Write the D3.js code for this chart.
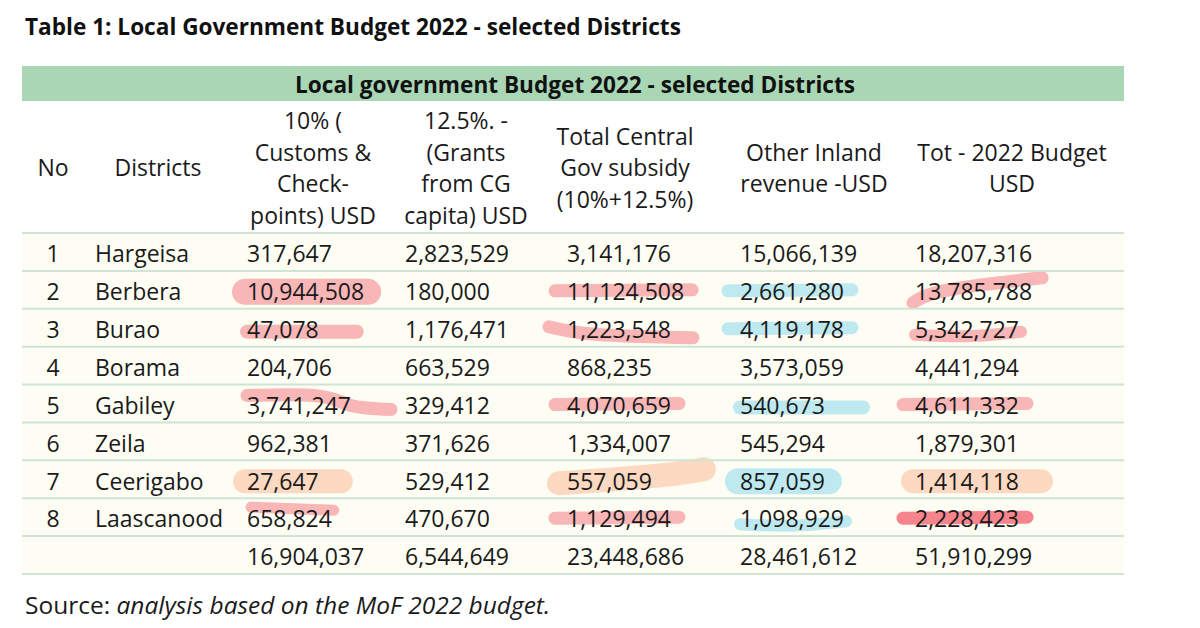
<!DOCTYPE html>
<html>
<head>
<meta charset="utf-8">
<script src="https://cdn.jsdelivr.net/npm/d3@7"></script>
<style>
  body { margin: 0; background: #fff; }
  svg { display: block; font-family: 'Open Sans', sans-serif; }
</style>
</head>
<body>
<svg id="chart" width="1200" height="628"></svg>
<script>
const title = 'Table 1: Local Government Budget 2022 - selected Districts';
const bandTitle = 'Local government Budget 2022 - selected Districts';
const headers = [
  ['No'],
  ['Districts'],
  ['10% (', 'Customs &', 'Check-', 'points) USD'],
  ['12.5%. -', '(Grants', 'from CG', 'capita) USD'],
  ['Total Central', 'Gov subsidy', '(10%+12.5%)'],
  ['Other Inland', 'revenue -USD'],
  ['Tot - 2022 Budget', 'USD']
];
const districts = ['Hargeisa', 'Berbera', 'Burao', 'Borama', 'Gabiley', 'Zeila', 'Ceerigabo', 'Laascanood'];
const customs = [317647, 10944508, 47078, 204706, 3741247, 962381, 27647, 658824];
const grants  = [2823529, 180000, 1176471, 663529, 329412, 371626, 529412, 470670];
const subsidy = [3141176, 11124508, 1223548, 868235, 4070659, 1334007, 557059, 1129494];
const inland  = [15066139, 2661280, 4119178, 3573059, 540673, 545294, 857059, 1098929];
const budget  = [18207316, 13785788, 5342727, 4441294, 4611332, 1879301, 1414118, 2228423];
const totals  = [16904037, 6544649, 23448686, 28461612, 51910299];
const source = 'Source: ';
const sourceNote = 'analysis based on the MoF 2022 budget.';

// hand-drawn marker strokes: row index, column index, tone, stroke kind
const highlights = [
  {row: 1, col: 2, tone: 'pink',  mark: 'blob'},
  {row: 1, col: 4, tone: 'pink',  mark: 'mid'},
  {row: 1, col: 5, tone: 'blue',  mark: 'mid'},
  {row: 1, col: 6, tone: 'pink',  mark: 'slant'},
  {row: 2, col: 2, tone: 'pink',  mark: 'tail'},
  {row: 2, col: 4, tone: 'pink',  mark: 'swoop'},
  {row: 2, col: 5, tone: 'blue',  mark: 'mid'},
  {row: 2, col: 6, tone: 'pink',  mark: 'under'},
  {row: 4, col: 2, tone: 'pink',  mark: 'wave'},
  {row: 4, col: 4, tone: 'pink',  mark: 'mid'},
  {row: 4, col: 5, tone: 'blue',  mark: 'tail'},
  {row: 4, col: 6, tone: 'pink',  mark: 'mid'},
  {row: 6, col: 2, tone: 'peach', mark: 'blobLong'},
  {row: 6, col: 4, tone: 'peach', mark: 'rise'},
  {row: 6, col: 5, tone: 'blue',  mark: 'blob'},
  {row: 6, col: 6, tone: 'peach', mark: 'blobLong'},
  {row: 7, col: 2, tone: 'pink',  mark: 'over'},
  {row: 7, col: 4, tone: 'pink',  mark: 'mid'},
  {row: 7, col: 5, tone: 'blue',  mark: 'under'},
  {row: 7, col: 6, tone: 'red',   mark: 'mid'}
];

// ---- layout ----
const W = 1200, H = 628;
const tableLeft = 22, tableRight = 1124;
const colLeft = [48, 95, 247, 405, 567, 740, 915];
const colMid  = [53, 158, 313, 466, 625, 814, 1012];
const fontSize = 23;
const tones = {
  pink:  'rgba(243,112,122,0.5)',
  blue:  'rgba(112,208,238,0.45)',
  peach: 'rgba(250,168,118,0.42)',
  red:   'rgba(240,58,78,0.62)'
};

const svg = d3.select('#chart').attr('viewBox', [0, 0, W, H]);
svg.append('rect').attr('width', W).attr('height', H).attr('fill', '#fff');

const fmt = d3.format(',');
const columns = [customs, grants, subsidy, inland, budget];
const rows = districts.map((d, i) => [String(i + 1), d].concat(columns.map(c => fmt(c[i]))));
rows.push(['', ''].concat(totals.map(fmt)));

const y = d3.scaleBand().domain(d3.range(rows.length)).range([233, 574]);

// title
svg.append('text')
  .attr('x', 25).attr('y', 27).attr('dy', '0.36em')
  .attr('font-size', 22.6).attr('font-weight', 700).attr('fill', '#111')
  .text(title);

// green band
svg.append('rect')
  .attr('x', tableLeft).attr('y', 66).attr('width', tableRight - tableLeft).attr('height', 35)
  .attr('fill', '#a9d6b5');
svg.append('text')
  .attr('x', (tableLeft + tableRight) / 2 + 2).attr('y', 85).attr('dy', '0.36em')
  .attr('text-anchor', 'middle')
  .attr('font-size', 22.6).attr('font-weight', 700).attr('fill', '#111')
  .text(bandTitle);

// cream body
svg.append('rect')
  .attr('x', tableLeft).attr('y', y(0)).attr('width', tableRight - tableLeft)
  .attr('height', y.range()[1] - y(0))
  .attr('fill', '#fdfdf4');

// header cells
const lineGap = 31.5, headMid = 168;
const head = svg.append('g').attr('font-size', fontSize).attr('fill', '#1a1a1a').attr('text-anchor', 'middle');
headers.forEach((lines, c) => {
  const t = head.append('text').attr('x', colMid[c]);
  lines.forEach((ln, k) => {
    t.append('tspan')
      .attr('x', colMid[c])
      .attr('y', headMid + (k - (lines.length - 1) / 2) * lineGap)
      .attr('dy', '0.36em')
      .text(ln);
  });
});

// highlight layer sits under the text
const hlLayer = svg.append('g').attr('fill', 'none').attr('stroke-linecap', 'round').attr('stroke-linejoin', 'round');

// row lines
svg.append('g')
  .selectAll('line')
  .data(d3.range(rows.length + 1))
  .join('line')
  .attr('x1', tableLeft).attr('x2', tableRight)
  .attr('y1', i => i < rows.length ? y(i) : y.range()[1])
  .attr('y2', i => i < rows.length ? y(i) : y.range()[1])
  .attr('stroke', '#cfe4d3').attr('stroke-width', 2);

// body cells
const body = svg.append('g').attr('font-size', fontSize).attr('fill', '#1a1a1a');
const cellNodes = {};
rows.forEach((r, i) => {
  r.forEach((v, c) => {
    const t = body.append('text')
      .attr('x', c === 0 ? colMid[0] : colLeft[c])
      .attr('y', y(i) + y.bandwidth() / 2 + 2)
      .attr('dy', '0.36em')
      .attr('text-anchor', c === 0 ? 'middle' : 'start')
      .text(v);
    cellNodes[i + '-' + c] = t;
  });
});

// marker stroke shapes relative to the text extent
const marks = {
  blob:     (a, b, m) => ({w: 26, p: [[a - 2, m], [b + 4, m]]}),
  blobLong: (a, b, m) => ({w: 24, p: [[a - 2, m], [b + 22, m]]}),
  mid:      (a, b, m) => ({w: 13, p: [[a - 12, m - 1], [b + 8, m - 2]]}),
  tail:     (a, b, m) => ({w: 14, p: [[a, m + 2], [b + 38, m + 2]]}),
  under:    (a, b, m) => ({w: 12, p: [[a, m + 5], [a + (b - a) * 0.5, m + 8], [b + 2, m + 2]]}),
  slant:    (a, b, m) => ({w: 13, p: [[a - 2, m + 11], [a + 18, m - 2], [b + 10, m - 14]]}),
  swoop:    (a, b, m) => ({w: 13, p: [[a - 18, m - 3], [a + 20, m + 6], [b + 22, m + 8]]}),
  wave:     (a, b, m) => ({w: 13, p: [[a, m - 10], [b - 20, m - 12], [b - 5, m + 2], [b + 40, m + 4]]}),
  rise:     (a, b, m) => ({w: 24, p: [[a - 8, m + 2], [b + 20, m - 6], [b + 52, m - 12]]}),
  over:     (a, b, m) => ({w: 11, p: [[a + 4, m - 12], [b + 2, m - 9]]})
};
const line = d3.line().curve(d3.curveBasis);
highlights.forEach(h => {
  const node = cellNodes[h.row + '-' + h.col].node();
  const x0 = colLeft[h.col];
  const x1 = x0 + node.getComputedTextLength();
  const m = y(h.row) + y.bandwidth() / 2 + 2;
  const s = marks[h.mark](x0, x1, m);
  hlLayer.append('path')
    .attr('d', line(s.p))
    .attr('stroke', tones[h.tone])
    .attr('stroke-width', s.w);
});

// source note
const src = svg.append('text')
  .attr('x', 25).attr('y', 605).attr('dy', '0.36em')
  .attr('font-size', 24.5).attr('fill', '#1a1a1a');
src.append('tspan').text(source);
src.append('tspan').attr('font-style', 'italic').text(sourceNote);
</script>
</body>
</html>
